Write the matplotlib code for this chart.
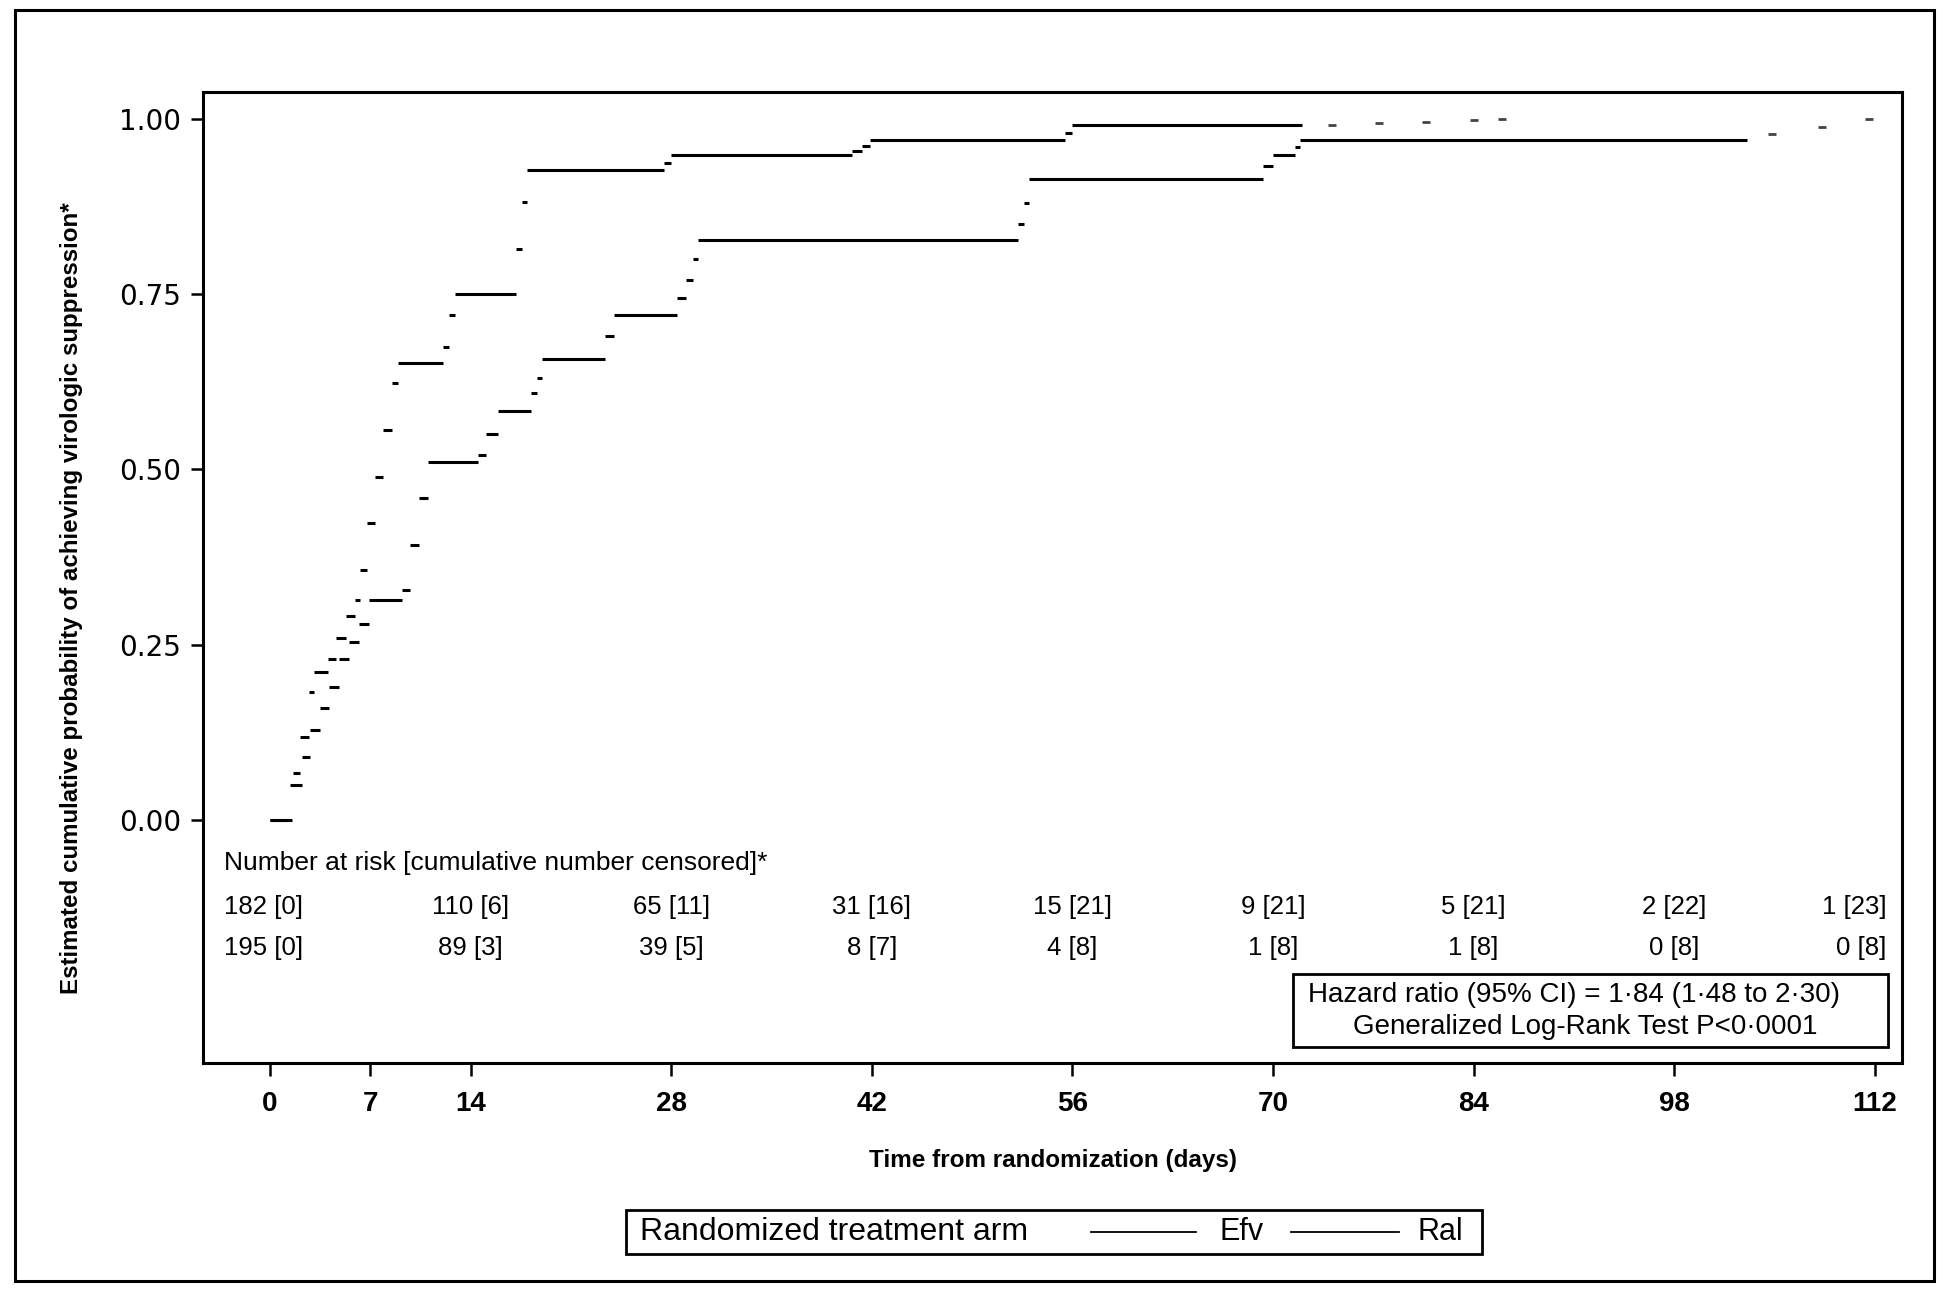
import matplotlib
matplotlib.use("Agg")
import matplotlib.pyplot as plt
from matplotlib.patches import Rectangle
from matplotlib.lines import Line2D

NARROW = ['Liberation Sans', 'DejaVu Sans']

# Kaplan-Meier style cumulative curves (event time, value after step)
ral_t = [0, 1.4, 1.6, 2.1, 2.7, 3.05, 4.05, 4.6, 5.3, 5.9, 6.3, 6.8, 7.3, 7.9, 8.5,
         8.9, 12.1, 12.5, 12.9, 17.2, 17.6, 17.9, 27.5, 28.0, 40.6, 41.3, 41.9,
         55.5, 56.0]
ral_v = [0, 0.05, 0.067, 0.118, 0.183, 0.211, 0.229, 0.26, 0.291, 0.314, 0.357,
         0.424, 0.489, 0.556, 0.623, 0.652, 0.675, 0.72, 0.751, 0.815, 0.882,
         0.927, 0.937, 0.948, 0.955, 0.962, 0.970, 0.98, 0.991]
ral_end = 72.0

efv_t = [0, 1.5, 2.2, 2.8, 3.5, 4.1, 4.8, 5.5, 6.2, 6.9, 9.2, 9.8, 10.4, 11.0,
         14.5, 15.1, 15.9, 18.2, 18.6, 19.0, 23.4, 24.0, 28.4, 29.0, 29.5, 29.9,
         52.2, 52.6, 53.0, 69.3, 70.0, 71.5, 71.9]
efv_v = [0, 0.05, 0.09, 0.128, 0.16, 0.19, 0.23, 0.254, 0.28, 0.314, 0.328,
         0.392, 0.459, 0.511, 0.521, 0.55, 0.583, 0.609, 0.63, 0.657, 0.69,
         0.720, 0.745, 0.770, 0.80, 0.828, 0.85, 0.88, 0.914, 0.933, 0.948,
         0.96, 0.970]
efv_end = 103.1

# isolated censor marks in the tails
ral_cens_t = [74.1, 77.4, 80.7, 84.0, 86.0]
ral_cens_v = [0.991, 0.994, 0.996, 0.999, 1.0]
efv_cens_t = [104.8, 108.3, 111.6]
efv_cens_v = [0.979, 0.989, 1.0]

# number at risk [cumulative censored]
risk_days = [0, 14, 28, 42, 56, 70, 84, 98, 112]
efv_risk = ['182 [0]', '110 [6]', '65 [11]', '31 [16]', '15 [21]', '9 [21]',
            '5 [21]', '2 [22]', '1 [23]']
ral_risk = ['195 [0]', '89 [3]', '39 [5]', '8 [7]', '4 [8]', '1 [8]',
            '1 [8]', '0 [8]', '0 [8]']

xticks = [0, 7, 14, 28, 42, 56, 70, 84, 98, 112]
yticks = [0.0, 0.25, 0.5, 0.75, 1.0]

fig = plt.figure(figsize=(19.5, 13), dpi=100)
ax = fig.add_axes([0.1041, 0.1823, 0.8713, 0.7469])

def draw_steps(t, v, end):
    ends = t[1:] + [end]
    ax.hlines(v, t, ends, colors='black', linewidth=2.2)

draw_steps(efv_t, efv_v, efv_end)
draw_steps(ral_t, ral_v, ral_end)
ax.plot(ral_cens_t, ral_cens_v, ls='none', marker='_', ms=6, mew=2, color='#444444')
ax.plot(efv_cens_t, efv_cens_v, ls='none', marker='_', ms=6, mew=2, color='#444444')

ax.set_xlim(-4.68, 113.9)
ax.set_ylim(-0.347, 1.0385)
ax.set_xticks(xticks)
ax.set_yticks(yticks)
ax.set_yticklabels(['%.2f' % v for v in yticks], fontsize=20)
ax.set_xticklabels([str(v) for v in xticks], fontsize=20, family=NARROW,
                   fontweight='bold')
ax.tick_params(axis='y', direction='out', length=8.5, width=1.8, pad=7)
ax.tick_params(axis='x', direction='out', length=9, width=1.8, pad=11)
for s in ax.spines.values():
    s.set_linewidth(2.2)

ax.set_xlabel('Time from randomization (days)', fontsize=17.5, family=NARROW,
              fontweight='bold', labelpad=23)
fig.text(0.0365, 0.54,
         'Estimated cumulative probability of achieving virologic suppression*',
         rotation=90, ha='center', va='center', fontsize=17.4, family=NARROW,
         fontweight='bold')

# at-risk table inside the axes
ax.text(-3.2, -0.061, 'Number at risk [cumulative number censored]*',
        fontsize=19, family=NARROW, ha='left', va='center')
for i, d in enumerate(risk_days):
    x = d
    ha = 'center'
    if i == 0:
        x, ha = -3.2, 'left'
    elif i == len(risk_days) - 1:
        x, ha = 112.8, 'right'
    ax.text(x, -0.124, efv_risk[i], fontsize=18.5, family=NARROW, ha=ha, va='center')
    ax.text(x, -0.183, ral_risk[i], fontsize=18.5, family=NARROW, ha=ha, va='center')

# hazard ratio box
ax.add_patch(Rectangle((71.4, -0.324), 41.5, 0.104, fill=False, lw=2,
                       edgecolor='black', clip_on=False))
ax.text(91.0, -0.250, 'Hazard ratio (95% CI) = 1\u00b784 (1\u00b748 to 2\u00b730)',
        fontsize=20, family=NARROW, ha='center', va='center')
ax.text(91.8, -0.296, 'Generalized Log-Rank Test P<0\u00b70001',
        fontsize=20, family=NARROW, ha='center', va='center')

# legend box at the bottom
fig.patches.append(Rectangle((626 / 1950, 1 - 1254 / 1300), 856 / 1950, 44 / 1300,
                             transform=fig.transFigure, fill=False, lw=2,
                             edgecolor='black'))
ly = 1 - 1232 / 1300
fig.text(640 / 1950, ly, 'Randomized treatment arm', fontsize=23, family=NARROW,
         ha='left', va='center')
fig.lines.append(Line2D([1091 / 1950, 1196 / 1950], [ly, ly], color='black', lw=1.3,
                        transform=fig.transFigure))
fig.text(1219 / 1950, ly, 'Efv', fontsize=22, family=NARROW, ha='left', va='center')
fig.lines.append(Line2D([1291 / 1950, 1399 / 1950], [ly, ly], color='black', lw=1.3,
                        transform=fig.transFigure))
fig.text(1418 / 1950, ly, 'Ral', fontsize=22, family=NARROW, ha='left', va='center')

# outer frame
fig.patches.append(Rectangle((15 / 1950, 1 - 1281 / 1300), 1919 / 1950, 1271 / 1300,
                             transform=fig.transFigure, fill=False, lw=2.2,
                             edgecolor='black'))

fig.savefig('out.png', dpi=100)
